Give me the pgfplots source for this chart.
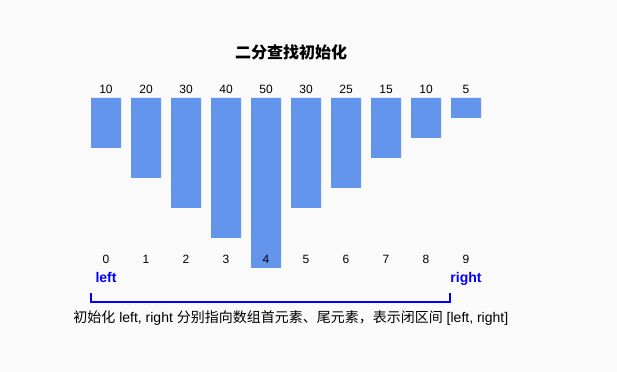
\documentclass[border=0pt]{standalone}
\usepackage{pgfplots}
\pgfplotsset{compat=1.18}
\usepackage{fontspec}
\setmainfont{Liberation Sans}
\newfontfamily\cjk{Noto Sans CJK SC}
\definecolor{bg}{HTML}{FAFAFA}
\definecolor{barc}{HTML}{6495ED}
\definecolor{ptr}{HTML}{0000FF}
\begin{document}
\begin{tikzpicture}
\begin{axis}[
  scale only axis, width=617bp, height=372bp,
  xmin=-2.65, xmax=12.775, ymin=-274, ymax=98,
  hide axis, clip=false,
]
\fill[bg] (rel axis cs:0,0) rectangle (rel axis cs:1,1);
% bars (pixel lengths hanging down from the top line)
\addplot[ybar, bar width=0.75, fill=barc, draw=none] coordinates {
  (0,-50) (1,-80) (2,-110) (3,-140) (4,-170) (5,-110) (6,-90) (7,-60) (8,-40) (9,-20)};
% values above bars
\addplot[only marks, mark=none, nodes near coords, point meta=explicit symbolic,
  nodes near coords style={anchor=base, inner sep=0pt, font=\fontsize{12bp}{14bp}\selectfont}]
  table[meta=v] {
x y v
0 4.7 10
1 4.7 20
2 4.7 30
3 4.7 40
4 4.7 50
5 4.7 30
6 4.7 25
7 4.7 15
8 4.7 10
9 4.7 5
};
% index labels
\addplot[only marks, mark=none, nodes near coords, point meta=explicit symbolic,
  nodes near coords style={anchor=base, inner sep=0pt, font=\fontsize{12bp}{14bp}\selectfont}]
  table[meta=v] {
x y v
0 -165.3 0
1 -165.3 1
2 -165.3 2
3 -165.3 3
4 -165.3 4
5 -165.3 5
6 -165.3 6
7 -165.3 7
8 -165.3 8
9 -165.3 9
};
% pointers
\addplot[only marks, mark=none, nodes near coords, point meta=explicit symbolic,
  nodes near coords style={anchor=base, inner sep=0pt, text=ptr, font=\fontsize{14bp}{16bp}\selectfont\bfseries}]
  table[meta=v] {
x y v
0 -185 left
9 -185 right
};
\draw[ptr, line width=2bp] (axis cs:-0.37,-195.3) -- (axis cs:-0.37,-204) -- (axis cs:8.61,-204) -- (axis cs:8.61,-195.3);
\node[anchor=center, inner sep=0pt, font=\fontsize{16bp}{18bp}\selectfont] at (axis cs:4.625,45.5) {\cjk\bfseries 二分查找初始化};
\node[anchor=center, inner sep=0pt, font=\fontsize{14bp}{16bp}\selectfont] at (axis cs:4.62,-220.3)
  {{\cjk 初始化} left, right {\cjk 分别指向数组首元素、尾元素，表示闭区间} [left, right]};
\end{axis}
\end{tikzpicture}
\end{document}
